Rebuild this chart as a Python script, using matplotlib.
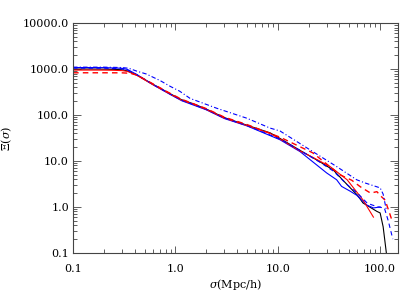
import matplotlib
matplotlib.use("Agg")
import matplotlib.pyplot as plt
from matplotlib.ticker import FixedLocator, FixedFormatter, LogLocator, NullFormatter

# black solid
sig_black = [0.1, 0.15, 0.2, 0.25, 0.3, 0.34, 0.42, 0.6, 0.89, 1.15, 1.5, 2.0, 3.0, 5.0,
             8.4, 10.5, 16.5, 26, 35, 48, 60, 68, 93, 100, 107, 115]
xi_black = [1000, 1000, 995, 985, 965, 910, 740, 470, 290, 215, 175, 135, 88, 60,
            41, 31, 17, 9.5, 6.3, 3.0, 1.8, 1.22, 0.8, 0.74, 0.37, 0.1]

# red solid
sig_red = [0.1, 0.15, 0.2, 0.25, 0.3, 0.34, 0.42, 0.6, 0.89, 1.15, 1.5, 2.0, 3.0, 5.0,
           8.4, 10.5, 16.5, 22, 32.6, 47.6, 68, 86]
xi_red = [950, 950, 948, 940, 925, 890, 730, 460, 285, 210, 172, 132, 86, 59,
          40, 30, 16.5, 12, 7.5, 3.9, 1.42, 0.6]

# red dashed
sig_red_d = [0.1, 0.2, 0.3, 0.36, 0.42, 0.6, 0.89, 1.15, 2.0, 3.0, 5.0, 10.5, 22,
             40.6, 52.9, 64, 80.6, 93, 100, 112, 131]
xi_red_d = [830, 830, 828, 810, 740, 480, 295, 220, 138, 90, 62, 33, 15,
            5.0, 3.8, 2.75, 2.0, 2.15, 1.78, 1.4, 0.5]

# blue solid
sig_blue = [0.1, 0.2, 0.3, 0.34, 0.42, 0.6, 0.89, 1.15, 2.0, 3.0, 5.0, 10.5, 16.5,
            30, 37.6, 42, 51, 59, 74, 86, 100]
xi_blue = [1080, 1075, 1040, 980, 760, 460, 280, 205, 130, 84, 58, 29, 16,
           5.5, 3.9, 2.8, 2.2, 1.8, 1.1, 0.95, 1.0]

# blue dashed
sig_blue_d = [0.1, 0.2, 0.3, 0.34, 0.42, 0.6, 0.89, 1.15, 2.0, 3.0, 5.0, 10.5, 16.5,
              26, 35, 48, 60, 75, 95, 110, 120, 133]
xi_blue_d = [1050, 1045, 1010, 950, 750, 465, 285, 210, 133, 86, 59, 30, 17,
             9.3, 6.0, 3.0, 2.0, 1.2, 1.0, 0.95, 0.5, 0.2]

# blue dash-dot
sig_blue_dd = [0.1, 0.2, 0.3, 0.35, 0.42, 0.52, 0.71, 0.89, 1.1, 1.39, 2.54, 5.0,
               8.4, 10.5, 20.7, 37.8, 59, 72, 86, 100, 107, 115]
xi_blue_dd = [1100, 1100, 1080, 1040, 900, 780, 560, 420, 330, 230, 140, 85,
              52, 45, 17.4, 7.5, 3.9, 3.3, 2.9, 2.6, 1.9, 0.86]

xticks = [0.1, 1.0, 10.0, 100.0]
xtick_labels = ["0.1", "1.0", "10.0", "100.0"]
yticks = [0.1, 1.0, 10.0, 100.0, 1000.0, 10000.0]
ytick_labels = ["0.1", "1.0", "10.0", "100.0", "1000.0", "10000.0"]

plt.rcParams["font.family"] = "DejaVu Serif"
plt.rcParams["mathtext.fontset"] = "dejavuserif"

fig = plt.figure(figsize=(4.2, 3.0), dpi=100)
ax = fig.add_axes([0.174, 0.157, 0.774, 0.766])

ax.plot(sig_black, xi_black, color="black", lw=0.8)
ax.plot(sig_blue, xi_blue, color="blue", lw=0.8)
ax.plot(sig_red, xi_red, color="red", lw=0.8)
ax.plot(sig_blue_d, xi_blue_d, color="blue", lw=0.8, dashes=(4, 3))
ax.plot(sig_red_d, xi_red_d, color="red", lw=1.0, dashes=(4, 3))
ax.plot(sig_blue_dd, xi_blue_dd, color="blue", lw=0.8, dashes=(4, 2, 1, 2))

ax.set_xscale("log")
ax.set_yscale("log")
ax.set_xlim(0.1, 150)
ax.set_ylim(0.1, 10000)

ax.xaxis.set_major_locator(FixedLocator(xticks))
ax.xaxis.set_major_formatter(FixedFormatter(xtick_labels))
ax.yaxis.set_major_locator(FixedLocator(yticks))
ax.yaxis.set_major_formatter(FixedFormatter(ytick_labels))
for axis in (ax.xaxis, ax.yaxis):
    axis.set_minor_locator(LogLocator(base=10, subs=range(2, 10), numticks=20))
    axis.set_minor_formatter(NullFormatter())

ax.tick_params(which="both", direction="in", top=True, right=True,
               labelsize=8, width=0.6, color="#444444")
ax.tick_params(axis="x", which="major", length=5, pad=8)
ax.tick_params(axis="y", which="major", length=6, pad=3)
ax.tick_params(which="minor", length=3)
for sp in ax.spines.values():
    sp.set_linewidth(0.8)
    sp.set_color("#444444")

ax.set_xlabel(r"$\sigma$(Mpc/h)", fontsize=8, labelpad=2)
ax.set_ylabel(r"$\Xi(\sigma)$", fontsize=8, labelpad=6)

fig.savefig("out.png", dpi=100)
